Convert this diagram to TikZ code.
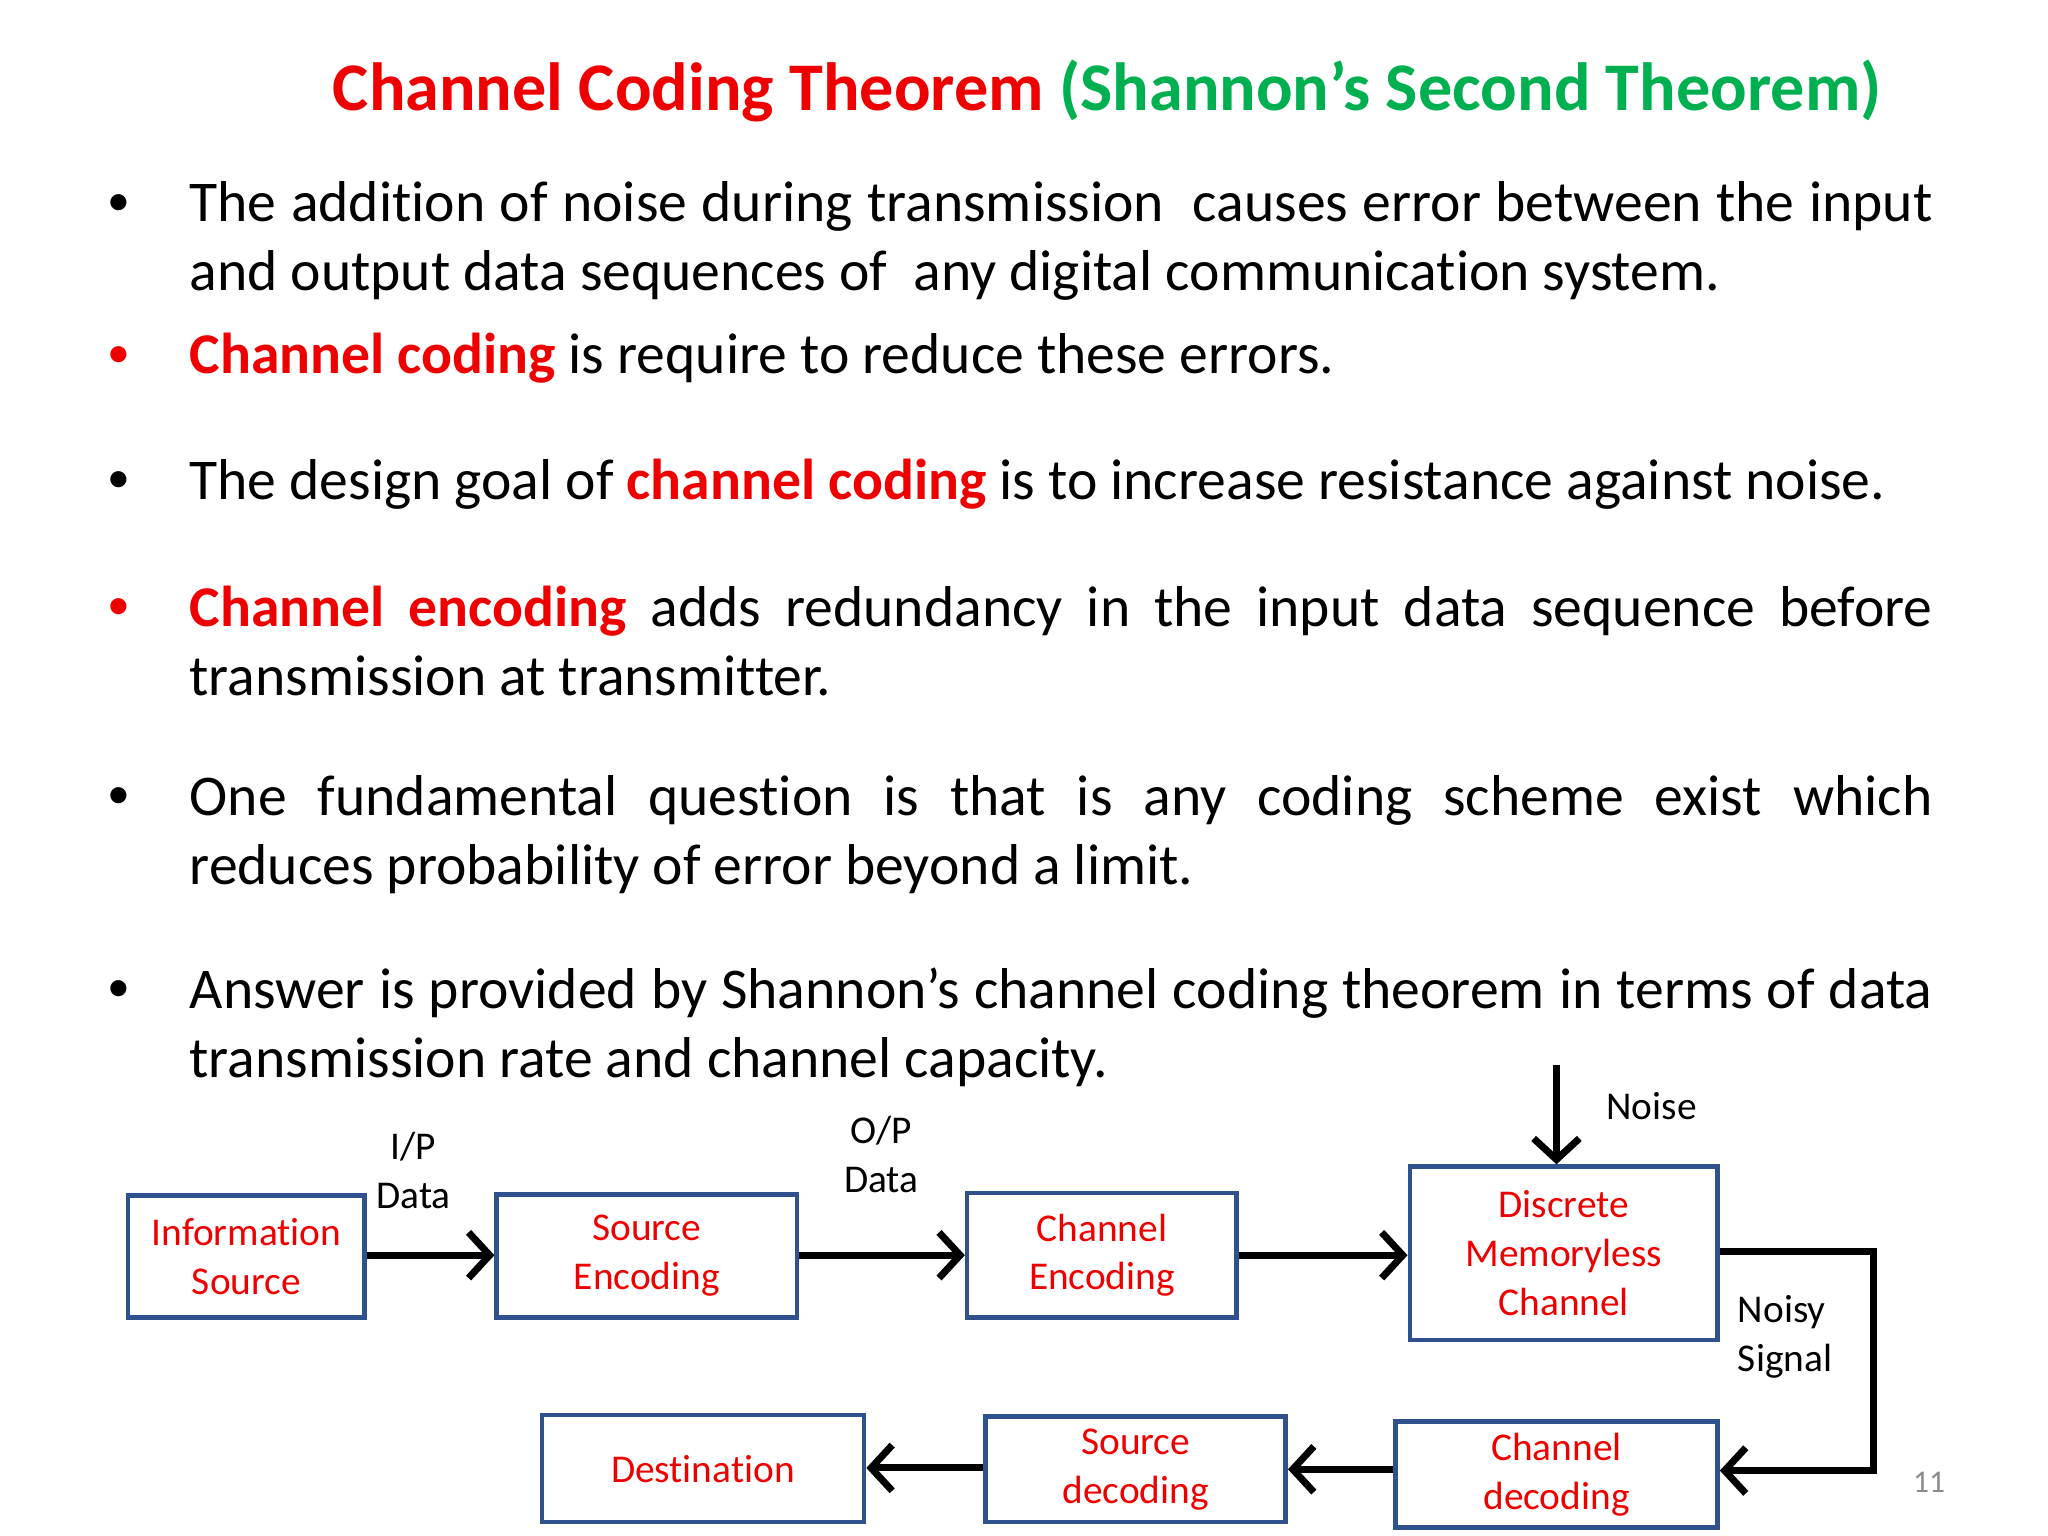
\documentclass[tikz,border=0pt]{standalone}
\usepackage{fontspec}
\setmainfont{Carlito}[Ligatures=NoCommon]
\usetikzlibrary{arrows.meta}
\definecolor{tred}{HTML}{EE0000}
\definecolor{tgreen}{HTML}{00B050}
\definecolor{bblue}{HTML}{2F528F}
\definecolor{pgray}{HTML}{8C8C8C}
\tikzset{
 para/.style={anchor=base west,inner sep=0pt,text width=496pt,align=justify,font=\fontsize{16.4}{19.6}\selectfont},
 bul/.style={anchor=base,inner sep=0pt,font=\fontsize{13}{15}\selectfont},
 blk/.style={draw=bblue,line width=1.3pt,text=tred,align=center,font=\fontsize{11.2}{13.9}\selectfont,inner sep=0pt},
 lbl/.style={align=center,font=\fontsize{11.2}{13.9}\selectfont,inner sep=0pt},
 arr/.style={line width=2pt,-{Straight Barb[length=6pt,width=13pt,line width=2pt]}}
}
\begin{document}
\begin{tikzpicture}[x=0.013213cm,y=-0.013213cm]
\useasboundingbox (0,0) rectangle (1550,1162);
\hyphenpenalty=10000 \emergencystretch=20pt
\node[anchor=base,inner sep=0pt,font=\fontsize{19.4}{22}\selectfont\bfseries] (title) at (838,84)
 {\textcolor{tred}{Channel Coding Theorem} \textcolor{tgreen}{(Shannon’s Second Theorem)}};
\node[bul] (b1) at (90,163) {•};
\node[para] (p1) at (143,168) {The addition of noise during transmission\ \ causes error between the input and output data sequences of\ \ any digital communication system.};
\node[bul,text=tred] (b2) at (90,278) {•};
\node[para] (p2) at (143,283) {\textcolor{tred}{\bfseries Channel coding} is require to reduce these errors.};
\node[bul] (b3) at (90,373) {•};
\node[para] (p3) at (143,378) {The design goal of \textcolor{tred}{\bfseries channel coding} is to increase resistance against noise.};
\node[bul,text=tred] (b4) at (90,469) {•};
\node[para] (p4) at (143,474) {\textcolor{tred}{\bfseries Channel encoding} adds redundancy in the input data sequence before transmission at transmitter.};
\node[bul] (b5) at (90,612) {•};
\node[para] (p5) at (143,617) {One fundamental question is that is any coding scheme exist which\linebreak reduces probability of error beyond a limit.};
\node[bul] (b6) at (90,758) {•};
\node[para] (p6) at (143,763) {Answer is provided by Shannon’s channel coding theorem in terms of data transmission rate and channel capacity.};

% blocks
\node[blk] (info) at (186.5,951) [minimum width=67.3pt,minimum height=34.6pt] {Information\\Source};
\node[blk] (senc) at (489.5,950.5) [minimum width=85.4pt,minimum height=35pt] {Source\\Encoding};
\node[blk] (cenc) at (834,950) [minimum width=76.7pt,minimum height=35.3pt] {Channel\\Encoding};
\node[blk] (dmc) at (1183.5,948.5) [minimum width=87.6pt,minimum height=49.3pt] {Discrete\\Memoryless\\Channel};
\node[blk] (cdec) at (1178,1116) [minimum width=91.7pt,minimum height=30.1pt] {Channel\\decoding};
\node[blk] (sdec) at (859.5,1112) [minimum width=85.4pt,minimum height=30.1pt] {Source\\decoding};
\node[blk] (dest) at (532,1111.5) [minimum width=91.7pt,minimum height=30.5pt] {Destination};

\draw[arr] (info.east |- 0,950) -- (senc.west |- 0,950);
\draw[arr] (senc.east |- 0,950) -- (cenc.west |- 0,950);
\draw[arr] (cenc.east |- 0,950) -- (dmc.west |- 0,950);
\coordinate (nz) at (1178,806);
\draw[arr] (nz) -- (nz |- dmc.north);
\draw[arr] (dmc.east |- 0,947) -- (1418,947) -- (1418,1113) -- (cdec.east |- 0,1113);
\draw[arr] (cdec.west |- 0,1112) -- (sdec.east |- 0,1112);
\draw[arr] (sdec.west |- 0,1111) -- (dest.east |- 0,1111);

\node[lbl] (l1) at (313,886) {I/P\\Data};
\node[lbl] (l2) at (667,874) {O/P\\Data};
\node[lbl] (l3) at (1250,837) {Noise};
\node[lbl,align=left] (l4) at (1351,1012) {Noisy\\Signal};
\node[lbl,text=pgray,font=\fontsize{9}{10}\selectfont] (pg) at (1460,1122) {11};
\end{tikzpicture}
\end{document}
